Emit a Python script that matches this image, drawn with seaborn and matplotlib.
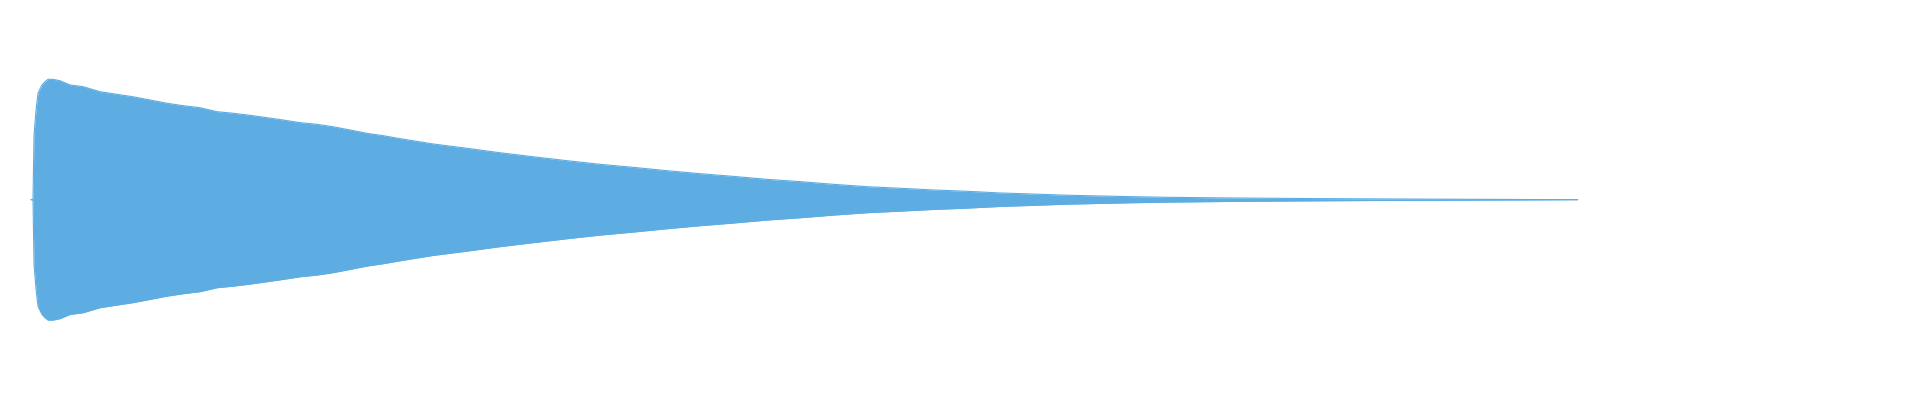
import matplotlib
matplotlib.use("Agg")
import matplotlib.pyplot as plt
import seaborn as sns
import pandas as pd
import numpy as np

# decaying tone - envelope (time in s, amplitude normalised)
time_s = [0.0, 0.0026, 0.0039, 0.0065, 0.0091, 0.0116, 0.0142, 0.0181, 0.0220,
          0.0284, 0.0375, 0.0504, 0.0672, 0.0892, 0.1112, 0.1319, 0.1539, 0.1759,
          0.1965, 0.2185, 0.2405, 0.2612, 0.2832, 0.3052, 0.3259, 0.3478, 0.3698,
          0.3905, 0.4125, 0.4345, 0.4552, 0.4772, 0.5198, 0.5638, 0.6065, 0.6491,
          0.6931, 0.7358, 0.7784, 0.8224, 0.8651, 0.9077, 0.9517, 0.9944, 1.0371,
          1.0810, 1.1237, 1.1663, 1.2103, 1.2530, 1.2957, 1.3396, 1.3823, 1.4250,
          1.4689, 1.5116, 1.5569, 1.6409, 1.7573, 2.0]
envelope = [0.0, 0.0025, 0.537, 0.745, 0.886, 0.919, 0.953, 0.980, 1.000,
            1.000, 0.988, 0.953, 0.939, 0.897, 0.875, 0.855, 0.828, 0.801,
            0.781, 0.764, 0.731, 0.718, 0.701, 0.681, 0.662, 0.640, 0.626,
            0.606, 0.579, 0.551, 0.532, 0.507, 0.463, 0.427, 0.390, 0.357,
            0.324, 0.294, 0.269, 0.241, 0.216, 0.194, 0.169, 0.150, 0.128,
            0.108, 0.095, 0.081, 0.070, 0.056, 0.047, 0.037, 0.031, 0.025,
            0.020, 0.017, 0.014, 0.010, 0.006, 0.0]

wave_color = "#5DADE2"

df = pd.DataFrame({"time": time_s, "upper": envelope})
df["lower"] = -df["upper"]

sns.set_theme(style="white")
fig = plt.figure(figsize=(19.2, 4), dpi=100)
ax = fig.add_axes([0, 0, 1, 1])

ax.fill_between(df["time"], df["lower"], df["upper"], color=wave_color, linewidth=0)
sns.lineplot(data=df, x="time", y="upper", color=wave_color, linewidth=0.8, ax=ax)
sns.lineplot(data=df, x="time", y="lower", color=wave_color, linewidth=0.8, ax=ax)

ax.set_xlim(-0.0401, 2.4426)
ax.set_ylim(-1.6636, 1.6586)
ax.axis("off")

fig.savefig("out.png", dpi=100, facecolor="white")
